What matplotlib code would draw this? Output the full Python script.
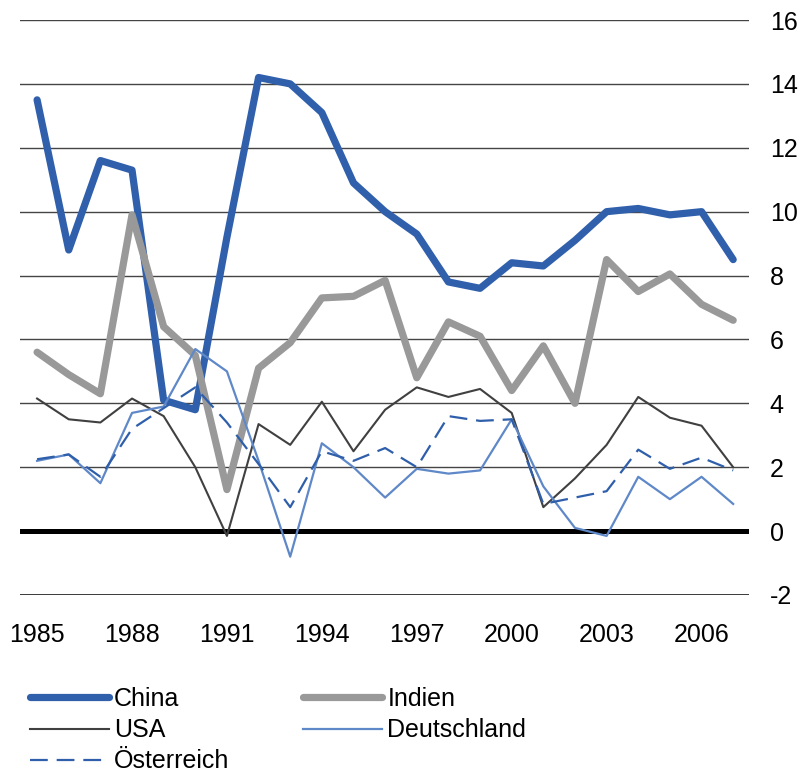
import matplotlib
matplotlib.use("Agg")
import matplotlib.pyplot as plt

years = list(range(1985, 2008))
china = [13.5, 8.8, 11.6, 11.3, 4.1, 3.8, 9.2, 14.2, 14.0, 13.1, 10.9, 10.0, 9.3,
         7.8, 7.6, 8.4, 8.3, 9.1, 10.0, 10.1, 9.9, 10.0, 8.5]
indien = [5.6, 4.9, 4.3, 9.9, 6.4, 5.5, 1.3, 5.1, 5.9, 7.3, 7.35, 7.85, 4.8,
          6.55, 6.1, 4.4, 5.8, 4.0, 8.5, 7.5, 8.05, 7.1, 6.6]
usa = [4.15, 3.5, 3.4, 4.15, 3.6, 2.0, -0.15, 3.35, 2.7, 4.05, 2.5, 3.8, 4.5,
       4.2, 4.45, 3.7, 0.75, 1.65, 2.7, 4.2, 3.55, 3.3, 2.0]
deutschland = [2.2, 2.4, 1.5, 3.7, 3.9, 5.7, 5.0, 2.2, -0.8, 2.75, 2.0, 1.05, 1.95,
               1.8, 1.9, 3.5, 1.4, 0.1, -0.15, 1.7, 1.0, 1.7, 0.85]
oesterreich = [2.25, 2.4, 1.7, 3.2, 3.85, 4.5, 3.4, 2.1, 0.75, 2.5, 2.2, 2.6, 2.0,
               3.6, 3.45, 3.5, 0.85, 1.05, 1.25, 2.55, 1.95, 2.3, 1.9]
x_ticks = [1985, 1988, 1991, 1994, 1997, 2000, 2003, 2006]
y_ticks = [-2, 0, 2, 4, 6, 8, 10, 12, 14, 16]

plt.rcParams['font.family'] = ['Liberation Sans', 'DejaVu Sans']

fig = plt.figure(figsize=(7.99, 7.73), dpi=100)
ax = fig.add_axes([20/799, (773-595)/773, (749-20)/799, (595-20)/773])

# grid lines
for v in y_ticks:
    if v == 0:
        ax.axhline(v, color='black', lw=3.6, solid_capstyle='round', zorder=1)
    elif v == -2:
        ax.axhline(v, color='black', lw=1.8, zorder=1)
    else:
        ax.axhline(v, color='#444444', lw=1.0, zorder=1)

l_china, = ax.plot(years, china, color='#3060ac', lw=5.2, solid_capstyle='round',
                   solid_joinstyle='round', label='China', zorder=2)
l_ind, = ax.plot(years, indien, color='#999999', lw=5.2, solid_capstyle='round',
                 solid_joinstyle='round', label='Indien', zorder=2)
l_usa, = ax.plot(years, usa, color='#404040', lw=1.5, label='USA', zorder=3)
l_de, = ax.plot(years, deutschland, color='#5f88c8', lw=1.6, label='Deutschland', zorder=3)
l_at, = ax.plot(years, oesterreich, color='#2f5faa', lw=1.6, dashes=(8, 4),
                label='Österreich', zorder=4)

ax.set_xlim(1984.46, 2007.5)
ax.set_ylim(-2, 16)
ax.set_xticks(x_ticks)
ax.set_xticklabels([str(t) for t in x_ticks], fontsize=18)
ax.set_yticks(y_ticks)
ax.set_yticklabels([str(t) for t in y_ticks], fontsize=18)
ax.yaxis.tick_right()
ax.tick_params(axis='y', length=0, pad=15)
ax.tick_params(axis='x', length=0, pad=20)
for s in ax.spines.values():
    s.set_visible(False)

handles = [l_china, l_usa, l_at, l_ind, l_de]
fig.legend(handles=handles, labels=[h.get_label() for h in handles], ncol=2,
           loc='upper left', bbox_to_anchor=(30/799, 1 - 687/773), frameon=False,
           fontsize=18, handlelength=3.16, handletextpad=0.2, columnspacing=2.96,
           labelspacing=0.29, borderpad=0, borderaxespad=0)

fig.savefig('out.png', dpi=100)
